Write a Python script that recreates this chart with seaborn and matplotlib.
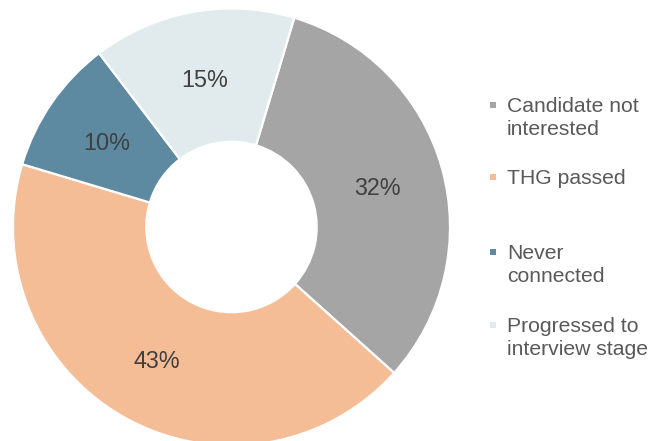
import matplotlib
matplotlib.use("Agg")
import matplotlib.pyplot as plt
from matplotlib.patches import Rectangle
import seaborn as sns

# data
labels = ["Candidate not\ninterested", "THG passed\n ", "Never\nconnected", "Progressed to\ninterview stage"]
shares = [32, 43, 10, 15]
colors = ["#A5A5A5", "#F5BD96", "#5D8AA0", "#E1EBEE"]

sns.set_theme(style="white")
plt.rcParams['font.family'] = ['Liberation Sans', 'DejaVu Sans']

W, H = 663, 441
fig = plt.figure(figsize=(W / 100, H / 100), dpi=100)

# pie axes: center (231.5, 227) px from top-left, radius 218.5 px
cx, cy, r = 231.5, 227, 218.5
ax = fig.add_axes([(cx - r) / W, (H - cy - r) / H, 2 * r / W, 2 * r / H])

wedges, texts, autotexts = ax.pie(
    shares, colors=colors, startangle=73.3, counterclock=False,
    autopct='%.0f%%', pctdistance=0.695,
    wedgeprops=dict(width=0.61, edgecolor='white', linewidth=1.6),
    textprops=dict(color='#404040', fontsize=16.8))
for t in autotexts:
    t.set_va('center_baseline')
ax.set_xlim(-1, 1)
ax.set_ylim(-1, 1)
ax.set_aspect('equal')
ax.axis('off')

# legend, drawn by hand so markers sit on the first line
first_line_y = [105, 177, 252, 325]
for lab, col, yy in zip(labels, colors, first_line_y):
    fig.add_artist(Rectangle(((493 - 3) / W, 1 - (yy + 3) / H), 6 / W, 6 / H,
                             transform=fig.transFigure, color=col, lw=0))
    fig.text(507 / W, 1 - (yy - 8) / H, lab, color='#595959', fontsize=15.2,
             va='top', ha='left', linespacing=1.26)

fig.savefig("out.png", dpi=100)
